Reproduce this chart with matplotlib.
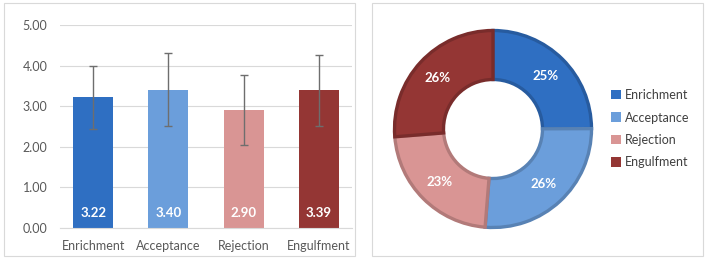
import matplotlib
matplotlib.use("Agg")
import matplotlib.pyplot as plt
from matplotlib.patches import Rectangle, Patch
import matplotlib.colors as mcolors

categories = ["Enrichment", "Acceptance", "Rejection", "Engulfment"]
means = [3.22, 3.40, 2.90, 3.39]
errors = [0.78, 0.90, 0.86, 0.87]
pct_labels = ["25%", "26%", "23%", "26%"]
yticks = [0.0, 1.0, 2.0, 3.0, 4.0, 5.0]
colors = ["#2F6FC2", "#6B9EDB", "#D99594", "#943634"]

plt.rcParams['font.family'] = ['Lato', 'DejaVu Sans']

fig = plt.figure(figsize=(7.08, 2.61), dpi=100)
W, H = 708, 261

# panel borders
for (x0, y0, x1, y1) in [(4, 3, 355, 256), (372, 3, 703, 256)]:
    fig.add_artist(Rectangle((x0 / W, 1 - y1 / H), (x1 - x0) / W, (y1 - y0) / H,
                             transform=fig.transFigure, fill=False,
                             edgecolor="#D9D9D9", linewidth=0.8))

# bar chart
ax = fig.add_axes([60 / W, 33 / H, 292 / W, 203 / H])
x = list(range(len(categories)))
ax.bar(x, means, width=0.53, color=colors, zorder=2)
ax.errorbar(x, means, yerr=errors, fmt='none', ecolor="#6E6E6E",
            elinewidth=1.0, capsize=3.0, capthick=1.0, zorder=3)
for xi, v in zip(x, means):
    ax.text(xi, 0.37, f"{v:.2f}", ha='center', va='center', color='white',
            fontsize=9.5, fontweight='bold', zorder=4)
ax.set_xlim(-0.44, 3.44)
ax.set_ylim(0, 5)
ax.set_yticks(yticks)
ax.set_yticklabels([f"{t:.2f}" for t in yticks])
ax.set_xticks(x)
ax.set_xticklabels(categories)
ax.tick_params(axis='both', length=0, labelsize=9, labelcolor="#595959")
ax.tick_params(axis='x', pad=9)
ax.tick_params(axis='y', pad=9)
ax.grid(axis='y', color="#D9D9D9", linewidth=0.8, zorder=0)
for s in ['top', 'right', 'left']:
    ax.spines[s].set_visible(False)
ax.spines['bottom'].set_color("#D9D9D9")

# donut chart
pax = fig.add_axes([393 / W, 32 / H, 200 / W, 200 / H])
darker = [tuple(c * 0.82 for c in mcolors.to_rgb(col)) for col in colors]
wedges, texts, autotexts = pax.pie(means, colors=colors, startangle=90, counterclock=False,
                                   radius=0.985, autopct='%1.0f%%', pctdistance=0.76,
                                   wedgeprops=dict(width=0.49, linewidth=2.4),
                                   textprops=dict(color='white', fontsize=9.5, fontweight='bold'))
for w, dc in zip(wedges, darker):
    w.set_edgecolor(dc)
    w.set_joinstyle('miter')
for t, lab in zip(autotexts, pct_labels):
    t.set_text(lab)
pax.set_xlim(-1.0, 1.0)
pax.set_ylim(-1.0, 1.0)
pax.set_aspect('equal')

handles = [Patch(facecolor=c, edgecolor='none') for c in colors]
fig.legend(handles, categories, loc='upper left', bbox_to_anchor=(606 / W, 1 - 84 / H),
           frameon=False, fontsize=9, labelcolor="#404040", handlelength=0.8,
           handleheight=0.8, handletextpad=0.3, labelspacing=0.84, borderaxespad=0)

fig.savefig("out.png", dpi=100)
